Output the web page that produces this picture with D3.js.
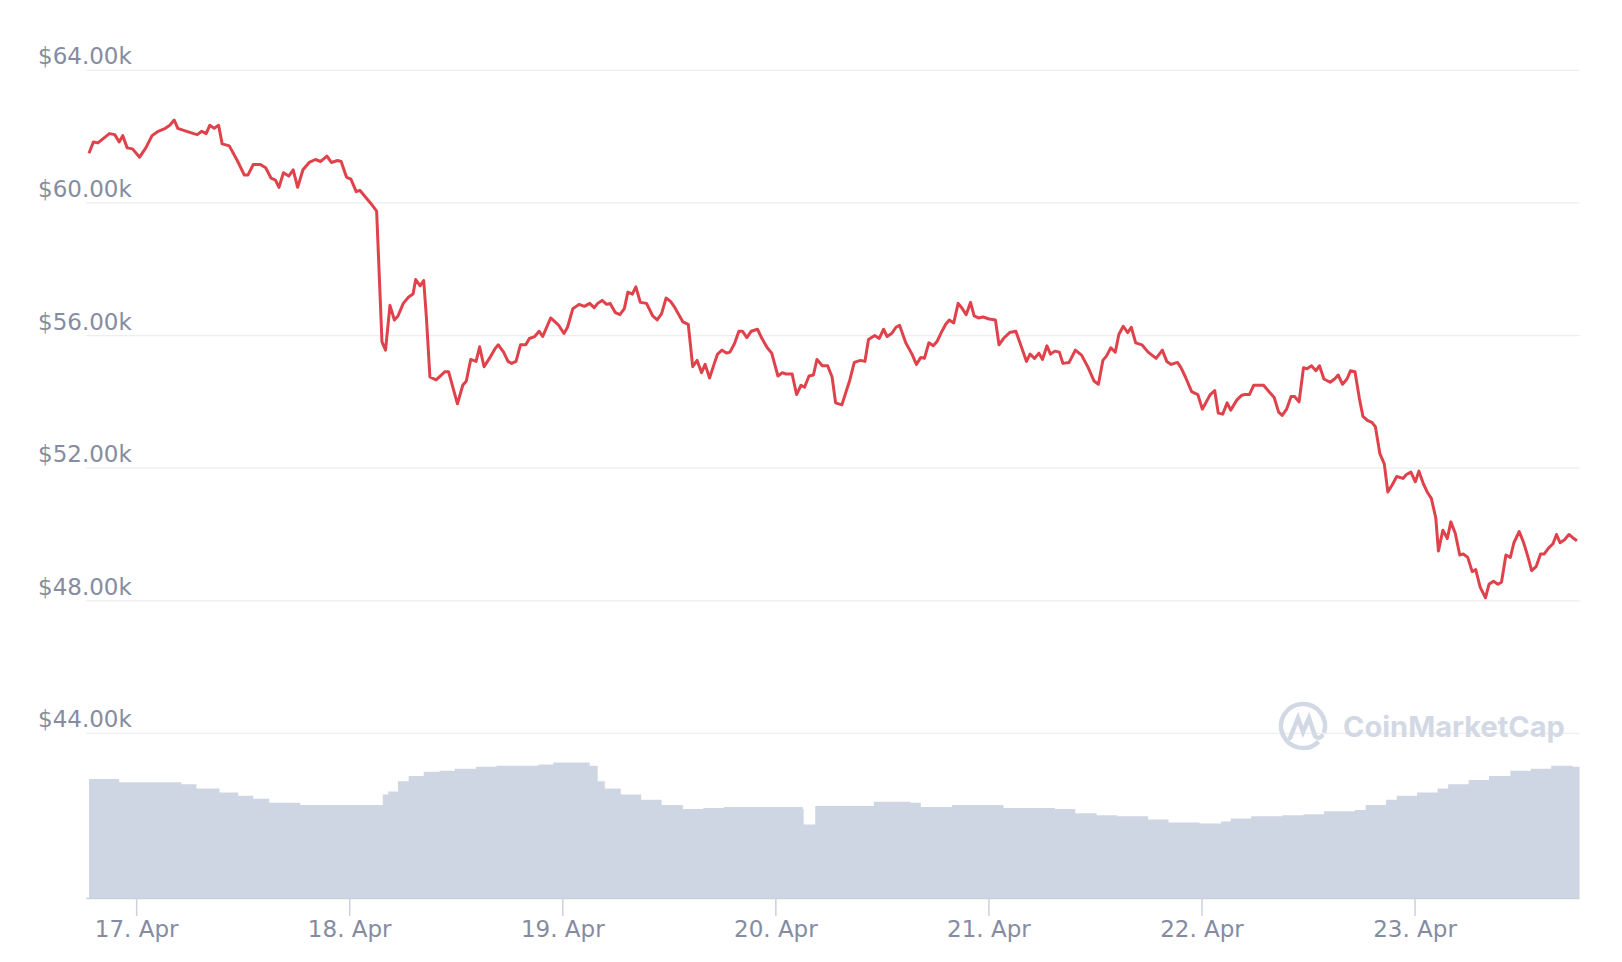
<!DOCTYPE html>
<html><head><meta charset="utf-8">
<script src="https://cdn.jsdelivr.net/npm/d3@7"></script>
<style>body{margin:0;background:#fff}svg{display:block}</style>
</head><body>
<svg id="c" width="1622" height="962"></svg>
<script>
const startTime = new Date(2021,3,16,18,38);
const endHours = 167.9;
const priceHours = [0.0,0.5,1.0,1.6,2.3,2.9,3.4,3.8,4.3,4.9,5.7,6.4,7.1,7.8,8.6,9.1,9.6,10.0,11.0,11.8,12.2,12.7,13.2,13.6,14.1,14.6,15.0,15.8,16.7,17.5,17.9,18.5,19.3,19.9,20.5,21.0,21.4,21.9,22.5,23.0,23.5,24.1,24.8,25.5,26.1,26.8,27.3,28.0,28.4,29.0,29.5,30.1,30.5,31.7,32.4,33.0,33.4,33.9,34.4,34.8,35.4,36.0,36.5,36.8,37.3,37.7,38.0,38.4,39.1,40.1,40.5,41.5,42.1,42.5,43.0,43.6,44.0,44.5,45.1,45.7,46.1,46.7,47.2,47.6,48.1,48.6,49.2,49.6,50.2,50.7,51.1,52.0,52.5,52.9,53.5,53.9,54.5,55.2,55.8,56.4,56.9,57.3,57.8,58.3,58.7,59.3,59.8,60.3,60.7,61.2,61.6,62.1,62.8,63.5,64.0,64.5,65.0,65.5,65.9,66.9,67.5,68.0,68.5,69.0,69.4,69.9,70.4,70.8,71.3,71.8,72.2,72.7,73.2,73.6,74.1,74.6,75.3,75.8,76.4,76.9,77.6,78.1,78.5,79.2,79.7,80.2,80.6,81.1,81.6,82.0,82.6,83.2,83.7,84.1,84.8,85.7,86.2,86.9,87.4,87.8,88.5,89.0,89.5,89.9,90.4,90.9,91.3,92.0,92.7,93.2,93.7,94.1,94.6,95.1,95.5,96.0,96.5,96.9,97.4,97.9,98.3,98.8,99.3,99.7,100.2,100.7,101.4,102.1,102.5,103.0,103.7,104.4,104.9,105.6,106.0,106.5,107.0,107.4,107.9,108.3,108.8,109.3,109.7,110.4,111.1,111.8,112.5,113.2,113.7,114.2,114.6,115.1,115.6,116.0,116.5,117.0,117.4,117.9,118.6,119.3,120.2,120.9,121.4,121.9,122.6,123.0,123.5,124.2,124.9,125.4,125.8,126.3,126.8,127.2,127.7,128.2,128.6,129.3,129.8,130.2,130.7,131.2,131.9,132.3,133.0,133.5,134.0,134.4,134.9,135.4,135.8,136.3,136.8,137.2,137.7,138.2,138.6,139.1,139.8,140.3,140.7,141.2,141.7,142.1,142.6,143.1,143.5,144.0,144.5,144.9,145.4,145.9,146.3,146.8,147.3,148.0,148.4,148.9,149.4,149.8,150.3,150.8,151.2,151.7,152.0,152.5,153.0,153.4,153.9,154.4,154.8,155.3,155.8,156.2,156.7,157.3,157.7,158.2,158.7,159.1,159.6,160.1,160.5,161.1,161.6,162.1,162.5,163.0,163.5,163.9,164.4,164.9,165.3,165.7,166.2,166.7,167.1,167.6];
const priceK = [61.50,61.84,61.81,61.94,62.09,62.06,61.84,62.03,61.66,61.63,61.38,61.66,62.03,62.16,62.25,62.34,62.50,62.25,62.16,62.09,62.06,62.16,62.09,62.34,62.25,62.34,61.78,61.72,61.28,60.84,60.84,61.16,61.16,61.06,60.75,60.69,60.47,60.91,60.81,61.00,60.47,61.00,61.22,61.31,61.25,61.41,61.22,61.28,61.25,60.78,60.72,60.34,60.38,60.00,59.75,55.81,55.56,56.91,56.47,56.59,56.97,57.16,57.25,57.69,57.50,57.66,56.56,54.75,54.66,54.91,54.91,53.94,54.50,54.63,55.28,55.22,55.66,55.06,55.31,55.59,55.72,55.50,55.22,55.16,55.22,55.72,55.72,55.91,55.97,56.13,55.97,56.53,56.41,56.31,56.06,56.25,56.81,56.94,56.88,56.97,56.84,56.97,57.06,56.94,56.97,56.69,56.63,56.81,57.31,57.25,57.47,57.00,56.97,56.59,56.47,56.66,57.13,57.03,56.88,56.41,56.34,55.06,55.25,54.88,55.13,54.72,55.13,55.44,55.56,55.47,55.50,55.75,56.13,56.13,55.94,56.13,56.19,55.91,55.63,55.47,54.78,54.88,54.84,54.84,54.22,54.50,54.44,54.78,54.81,55.28,55.09,55.09,54.75,53.97,53.91,54.66,55.19,55.25,55.22,55.88,56.00,55.91,56.19,55.97,56.06,56.25,56.31,55.78,55.44,55.13,55.34,55.31,55.78,55.69,55.81,56.09,56.34,56.47,56.38,56.97,56.84,56.63,57.00,56.59,56.53,56.56,56.50,56.47,55.72,55.91,56.09,56.13,55.75,55.22,55.44,55.31,55.47,55.28,55.69,55.44,55.53,55.50,55.16,55.19,55.56,55.41,55.06,54.63,54.53,55.25,55.38,55.63,55.50,56.03,56.28,56.09,56.25,55.78,55.72,55.50,55.31,55.56,55.22,55.13,55.19,55.03,54.75,54.31,54.22,53.78,53.97,54.22,54.34,53.66,53.63,53.97,53.75,54.06,54.19,54.22,54.22,54.50,54.50,54.50,54.28,54.13,53.69,53.59,53.78,54.16,54.16,54.00,55.03,55.00,55.09,54.94,55.09,54.69,54.59,54.69,54.81,54.53,54.69,54.94,54.91,54.09,53.56,53.44,53.38,53.25,52.44,52.13,51.28,51.50,51.75,51.69,51.81,51.88,51.59,51.91,51.53,51.25,51.09,50.50,49.50,50.13,49.88,50.38,50.03,49.38,49.41,49.31,48.88,48.94,48.41,48.09,48.50,48.59,48.50,48.56,49.38,49.31,49.75,50.09,49.75,49.31,48.91,49.03,49.41,49.41,49.59,49.72,50.00,49.75,49.84,50.00,49.91,49.81];
const volHours = [0,3.4,10.4,12.1,14.7,16.8,18.5,20.3,23.8,33.1,33.7,34.8,36.0,37.7,39.5,41.2,43.6,45.9,50.6,52.3,56.4,57.3,58.1,59.9,62.2,64.5,66.9,69.2,71.5,80.4,80.5,81.8,88.4,92.5,93.7,97.2,103.0,108.8,111.1,113.5,115.8,119.3,121.6,125.1,127.5,128.6,130.9,134.4,136.8,139.1,142.6,143.8,146.1,147.3,149.6,151.9,153.1,155.4,157.7,160.1,162.4,164.7,167.1,167.9];
const volValues = [115,112,110,106,102,99,96,92,90,100,103,113,118,122,123,125,127,128,129,131,128,113,106,100,95,90,86,87,88,86,71,89,93,92,88,90,87,86,82,80,79,76,73,72,74,77,79,80,81,84,85,90,95,99,102,106,110,114,118,123,125,128,127,127];
const yTicks = [44,48,52,56,60,64];
const dayTicks = [17,18,19,20,21,22,23];

const svg = d3.select('#c');
const hToDate = h => new Date(startTime.getTime()+h*3600e3);
const x = d3.scaleTime().domain([startTime, hToDate(endHours)]).range([89,1579.6]);
const y = d3.scaleLinear().domain([44,64]).range([733.4,70.3]);
const yv = d3.scaleLinear().domain([0,100]).range([898,794.6]);
const L = 86, R = 1579.6;

svg.append('g').selectAll('line').data(yTicks).join('line')
 .attr('x1',L).attr('x2',R).attr('y1',d=>y(d)).attr('y2',d=>y(d))
 .attr('stroke','#eceef2').attr('stroke-width',1.2);
svg.append('g').selectAll('text').data(yTicks).join('text')
 .attr('x',38).attr('y',d=>y(d)-6).text(d=>'$'+d.toFixed(2)+'k')
 .attr('font-family','DejaVu Sans, sans-serif').attr('font-size',23).attr('fill','#858ca2');

const wm = svg.append('g').attr('fill','none').attr('stroke','#d3d9e4').attr('stroke-width',4.5).attr('stroke-linecap','round');
wm.append('path').attr('d',d3.arc()({innerRadius:22,outerRadius:22,startAngle:Math.PI*0.75,endAngle:Math.PI*2.6})).attr('transform','translate(1303,726)');
wm.append('path').attr('d','M1290,738 L1298,718 L1303,732 L1309,718 L1315,736 Q1318,740 1322,736');
svg.append('text').attr('x',1343).attr('y',737).text('CoinMarketCap')
 .attr('font-family','Inter, Noto Sans, sans-serif').attr('font-weight',700).attr('font-size',29).attr('fill','#d3d9e4');

const vdata = volHours.map((h,i)=>({d:hToDate(h),v:volValues[i]}));
svg.append('path').datum(vdata)
 .attr('d',d3.area().curve(d3.curveStepAfter).x(d=>Math.max(L,x(d.d))).y0(yv(0)).y1(d=>yv(d.v)))
 .attr('fill','#cfd6e3');

const pdata = priceHours.map((h,i)=>({d:hToDate(h),v:priceK[i]}));
svg.append('path').datum(pdata)
 .attr('d',d3.line().x(d=>x(d.d)).y(d=>y(d.v)))
 .attr('fill','none').attr('stroke','#e0424c').attr('stroke-width',3).attr('stroke-linejoin','round');

svg.append('line').attr('x1',L).attr('x2',R).attr('y1',898.5).attr('y2',898.5).attr('stroke','#ccd1db').attr('stroke-width',1.5);
const td = dayTicks.map(d=>new Date(2021,3,d));
svg.append('g').selectAll('line').data(td).join('line')
 .attr('x1',d=>x(d)).attr('x2',d=>x(d)).attr('y1',898).attr('y2',916).attr('stroke','#ccd1db').attr('stroke-width',1.5);
svg.append('g').selectAll('text').data(td).join('text')
 .attr('x',d=>x(d)).attr('y',937).attr('text-anchor','middle').text(d=>d.getDate()+'. Apr')
 .attr('font-family','DejaVu Sans, sans-serif').attr('font-size',23).attr('fill','#858ca2');
</script>
</body></html>
